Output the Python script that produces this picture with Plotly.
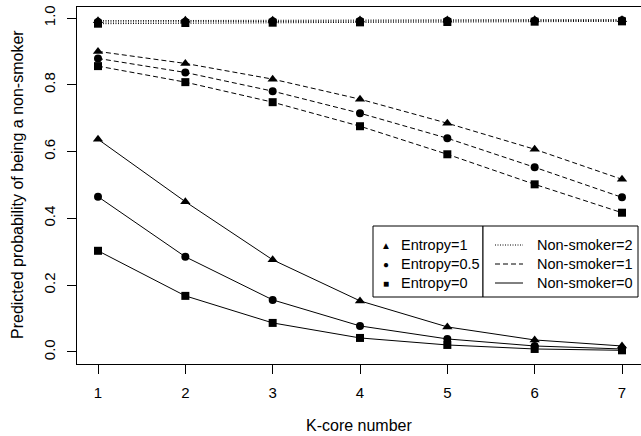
import plotly.graph_objects as go

kcore = [1, 2, 3, 4, 5, 6, 7]

# Non-smoker = 2 (dotted)
ns2_e1 = [0.992, 0.993, 0.993, 0.994, 0.994, 0.995, 0.995]
ns2_e05 = [0.988, 0.989, 0.990, 0.991, 0.992, 0.992, 0.993]
ns2_e0 = [0.983, 0.985, 0.986, 0.987, 0.988, 0.989, 0.990]
# Non-smoker = 1 (dashed)
ns1_e1 = [0.900, 0.864, 0.817, 0.757, 0.685, 0.607, 0.517]
ns1_e05 = [0.879, 0.837, 0.781, 0.715, 0.640, 0.553, 0.463]
ns1_e0 = [0.856, 0.808, 0.748, 0.676, 0.592, 0.502, 0.417]
# Non-smoker = 0 (solid)
ns0_e1 = [0.637, 0.450, 0.276, 0.153, 0.075, 0.036, 0.018]
ns0_e05 = [0.465, 0.285, 0.156, 0.078, 0.039, 0.018, 0.009]
ns0_e0 = [0.303, 0.168, 0.087, 0.042, 0.021, 0.009, 0.005]

yticks = [0.0, 0.2, 0.4, 0.6, 0.8, 1.0]
ytick_labels = ["0.0", "0.2", "0.4", "0.6", "0.8", "1.0"]
legend_entropy = ["Entropy=1", "Entropy=0.5", "Entropy=0"]
legend_ns = ["Non-smoker=2", "Non-smoker=1", "Non-smoker=0"]

FONT = "Liberation Sans, Arial, sans-serif"
symbols = {"e1": ("triangle-up", 9), "e05": ("circle", 8), "e0": ("square", 8)}
DOT = "1px,1.5px"
DASH = "5px,3px"

fig = go.Figure()
series = [
    (ns2_e1, DOT, "e1"), (ns2_e05, DOT, "e05"), (ns2_e0, DOT, "e0"),
    (ns1_e1, DASH, "e1"), (ns1_e05, DASH, "e05"), (ns1_e0, DASH, "e0"),
    (ns0_e1, "solid", "e1"), (ns0_e05, "solid", "e05"), (ns0_e0, "solid", "e0"),
]
for vals, dash, ek in series:
    sym, sz = symbols[ek]
    fig.add_trace(go.Scatter(
        x=kcore, y=vals, mode="lines+markers",
        line=dict(color="black", width=1, dash=dash),
        marker=dict(symbol=sym, size=sz, color="black"),
        showlegend=False, hoverinfo="skip"))

W, H = 641, 436
L, R, T, B = 77, 0, 7, 72

fig.update_layout(
    width=W, height=H,
    margin=dict(l=L, r=R, t=T, b=B, pad=0),
    paper_bgcolor="white", plot_bgcolor="white",
    font=dict(family=FONT, size=15, color="black"),
    xaxis=dict(range=[0.7595, 7.2176], tickvals=kcore, ticks="outside", ticklen=9,
               tickcolor="black", showline=True, linecolor="black", linewidth=1,
               mirror=True, showgrid=False, zeroline=False,
               ticklabelstandoff=6, tickfont=dict(size=15)),
    yaxis=dict(range=[-0.036, 1.033], tickvals=yticks, ticktext=ytick_labels,
               ticks="outside", ticklen=9, tickcolor="black", showline=True,
               linecolor="black", linewidth=1, showgrid=False, zeroline=False,
               tickangle=-90, ticklabelstandoff=6, tickfont=dict(size=15)),
)

def px2paper_x(px):
    return (px - L) / (W - L - R)

def px2paper_y(py):
    return 1 - (py - T) / (H - T - B)

# axis titles
fig.add_annotation(text="K-core number", xref="paper", yref="paper",
                   x=px2paper_x(359), y=px2paper_y(425), showarrow=False,
                   xanchor="center", yanchor="middle", font=dict(size=16))
fig.add_annotation(text="Predicted probability of being a non-smoker", xref="paper",
                   yref="paper", x=px2paper_x(17), y=px2paper_y(185), showarrow=False,
                   textangle=-90, xanchor="center", yanchor="middle",
                   font=dict(size=16))

# legend boxes
lx0, lmid, lx1, ly0, ly1 = 373, 483, 638, 226, 297
for a, b in [(lx0, lmid), (lmid, lx1)]:
    fig.add_shape(type="rect", xref="paper", yref="paper",
                  x0=px2paper_x(a), x1=px2paper_x(b),
                  y0=px2paper_y(ly1), y1=px2paper_y(ly0),
                  line=dict(color="black", width=1), fillcolor="white", layer="above")

rows = [245, 264, 283]
glyphs = ["▲", "●", "■"]
dashes = [DOT, DASH, "solid"]
for i, yy in enumerate(rows):
    fig.add_annotation(text=glyphs[i], xref="paper", yref="paper",
                       x=px2paper_x(386), y=px2paper_y(yy), showarrow=False,
                       xanchor="center", yanchor="middle", font=dict(size=10))
    fig.add_annotation(text=legend_entropy[i], xref="paper", yref="paper",
                       x=px2paper_x(399), y=px2paper_y(yy), showarrow=False,
                       xanchor="left", yanchor="middle", font=dict(size=14.5))
    fig.add_shape(type="line", xref="paper", yref="paper",
                  x0=px2paper_x(495), x1=px2paper_x(523),
                  y0=px2paper_y(yy), y1=px2paper_y(yy),
                  line=dict(color="black", width=1, dash=dashes[i]), layer="above")
    fig.add_annotation(text=legend_ns[i], xref="paper", yref="paper",
                       x=px2paper_x(535), y=px2paper_y(yy), showarrow=False,
                       xanchor="left", yanchor="middle", font=dict(size=14.5))

fig.write_html("out.html")
